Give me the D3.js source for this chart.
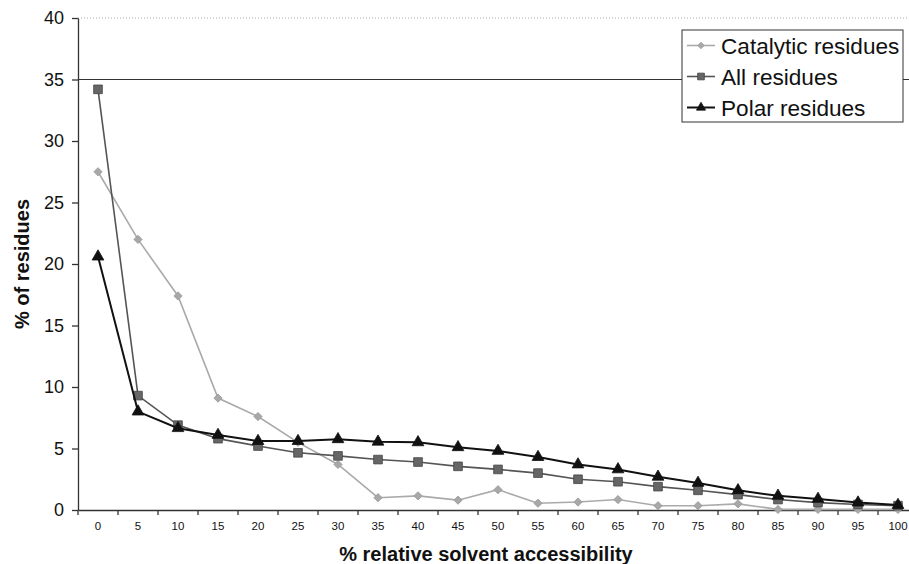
<!DOCTYPE html>
<html>
<head>
<meta charset="utf-8">
<script src="https://cdn.jsdelivr.net/npm/d3@7"></script>
<style>
  html, body { margin: 0; padding: 0; background: #fff; }
  svg { display: block; font-family: "Liberation Sans", Arial, Helvetica, sans-serif; }
</style>
</head>
<body>
<svg id="chart" width="909" height="564"></svg>
<script>
const categories = ["0","5","10","15","20","25","30","35","40","45","50","55","60","65","70","75","80","85","90","95","100"];
const catalytic = [27.5, 22.0, 17.4, 9.1, 7.6, 5.5, 3.7, 1.0, 1.15, 0.8, 1.65, 0.55, 0.65, 0.85, 0.35, 0.35, 0.5, 0.05, 0.05, 0.05, 0.05];
const allRes    = [34.2, 9.3, 6.9, 5.8, 5.2, 4.65, 4.4, 4.1, 3.9, 3.55, 3.3, 3.0, 2.5, 2.3, 1.9, 1.6, 1.25, 0.85, 0.6, 0.45, 0.35];
const polar     = [20.6, 8.0, 6.65, 6.1, 5.6, 5.6, 5.75, 5.55, 5.5, 5.1, 4.8, 4.3, 3.7, 3.3, 2.7, 2.2, 1.6, 1.15, 0.9, 0.6, 0.4];
const yTicks = [0, 5, 10, 15, 20, 25, 30, 35, 40];
const seriesNames = ["Catalytic residues", "All residues", "Polar residues"];

const svg = d3.select("#chart");
const mLeft = 78, mRight = 918, mTop = 18, mBottom = 510;

const x = d3.scaleBand().domain(categories).range([mLeft, mRight]).padding(0);
const y = d3.scaleLinear().domain([0, 40]).range([mBottom, mTop]);
const cx = c => x(c) + x.bandwidth() / 2;

// reference lines
svg.append("line")
  .attr("x1", mLeft).attr("x2", 909)
  .attr("y1", y(40)).attr("y2", y(40))
  .attr("stroke", "#aaa").attr("stroke-width", 1).attr("stroke-dasharray", "1,2");
svg.append("line")
  .attr("x1", mLeft).attr("x2", 909)
  .attr("y1", y(35)).attr("y2", y(35))
  .attr("stroke", "#333").attr("stroke-width", 1.1);

// y axis
const yAxis = svg.append("g")
  .attr("transform", `translate(${mLeft},0)`)
  .call(d3.axisLeft(y).tickValues(yTicks).tickSize(6).tickSizeOuter(0).tickPadding(8));
yAxis.selectAll("text").attr("font-size", 18).attr("fill", "#111").attr("font-family", "Liberation Sans, Arial, sans-serif");
yAxis.selectAll("line, path").attr("stroke", "#333").attr("stroke-width", 1.3);

// x axis (labels centred on categories, ticks at band edges)
const xAxis = svg.append("g")
  .attr("transform", `translate(0,${mBottom})`)
  .call(d3.axisBottom(x).tickSize(0).tickSizeOuter(0).tickPadding(12));
xAxis.selectAll("text").attr("font-size", 11.5).attr("fill", "#111").attr("font-family", "Liberation Sans, Arial, sans-serif");
xAxis.select("path").attr("stroke", "#333").attr("stroke-width", 1.3);
xAxis.selectAll(".edge")
  .data(categories)
  .enter().append("line")
  .attr("class", "edge")
  .attr("x1", d => x(d)).attr("x2", d => x(d))
  .attr("y1", 0).attr("y2", 5)
  .attr("stroke", "#333").attr("stroke-width", 1.3);

// axis titles
svg.append("text")
  .attr("x", 486).attr("y", 561)
  .attr("text-anchor", "middle")
  .attr("font-size", 20).attr("font-weight", "bold").attr("fill", "#111")
  .text("% relative solvent accessibility");
svg.append("text")
  .attr("transform", "translate(29,264) rotate(-90)")
  .attr("text-anchor", "middle")
  .attr("font-size", 20).attr("font-weight", "bold").attr("fill", "#111")
  .text("% of residues");

const series = [
  { name: seriesNames[0], values: catalytic, line: "#aaaaaa", fill: "#a8a8a8", stroke: "#999", width: 1.6, shape: d3.symbolSquare, size: 34, rot: 45 },
  { name: seriesNames[1], values: allRes, line: "#555555", fill: "#666666", stroke: "#444", width: 1.6, shape: d3.symbolSquare, size: 75, rot: 0 },
  { name: seriesNames[2], values: polar, line: "#111111", fill: "#111111", stroke: "#111", width: 2, shape: d3.symbolTriangle, size: 60, rot: 0 }
];

const lineGen = d3.line().x((d, i) => cx(categories[i])).y(d => y(d));

series.forEach(s => {
  svg.append("path")
    .datum(s.values)
    .attr("fill", "none")
    .attr("stroke", s.line)
    .attr("stroke-width", s.width)
    .attr("d", lineGen);
  svg.selectAll(null)
    .data(s.values)
    .enter().append("path")
    .attr("transform", (d, i) => `translate(${cx(categories[i])},${y(d)}) rotate(${s.rot})`)
    .attr("d", d3.symbol().type(s.shape).size(s.size))
    .attr("fill", s.fill)
    .attr("stroke", s.stroke)
    .attr("stroke-width", 0.8);
});

// legend
const lg = svg.append("g");
lg.append("rect")
  .attr("x", 682).attr("y", 30).attr("width", 221).attr("height", 92)
  .attr("fill", "#fff").attr("stroke", "#333").attr("stroke-width", 1);
series.forEach((s, i) => {
  const yy = 45.5 + i * 31;
  lg.append("line")
    .attr("x1", 687).attr("x2", 715).attr("y1", yy).attr("y2", yy)
    .attr("stroke", s.line).attr("stroke-width", s.width);
  lg.append("path")
    .attr("transform", `translate(701,${yy}) rotate(${s.rot})`)
    .attr("d", d3.symbol().type(s.shape).size(s.size * 0.6))
    .attr("fill", s.fill).attr("stroke", s.stroke).attr("stroke-width", 0.8);
  lg.append("text")
    .attr("x", 721).attr("y", yy)
    .attr("dy", "0.36em")
    .attr("font-size", 22.6).attr("fill", "#111")
    .text(s.name);
});
</script>
</body>
</html>
